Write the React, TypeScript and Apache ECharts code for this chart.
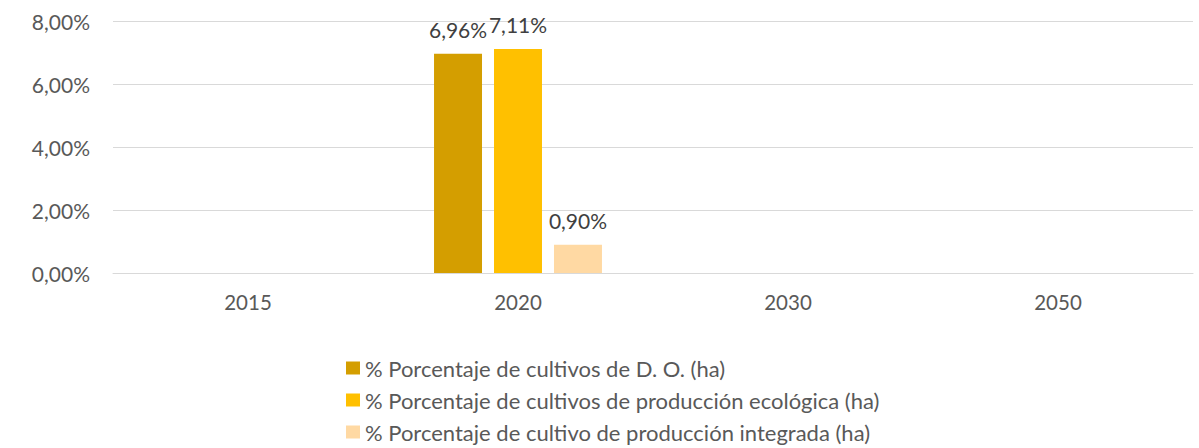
import React, { useEffect, useRef } from "react";
import * as echarts from "echarts";

const categories = ["2015", "2020", "2030", "2050"];
const seriesNames = [
  "% Porcentaje de cultivos de D. O. (ha)",
  "% Porcentaje de cultivos de producción ecológica (ha)",
  "% Porcentaje de cultivo de producción integrada (ha)",
];
const doValues = [null, 6.96, null, null];
const ecoValues = [null, 7.11, null, null];
const integradaValues = [null, 0.9, null, null];
const yTicks = [0, 2, 4, 6, 8];
const colors = ["#D49E00", "#FFC000", "#FFD9A3"];

const fmt = (v: number) => v.toFixed(2).replace(".", ",") + "%";

const FONT = "Lato";
function fitSize(text: string, target: number, fallback: number) {
  try {
    const c = document.createElement("canvas").getContext("2d");
    if (!c) return fallback;
    c.font = `100px ${FONT}`;
    const w = c.measureText(text).width;
    if (!w) return fallback;
    return Math.round((target / w) * 100 * 2) / 2;
  } catch (e) {
    return fallback;
  }
}

export default function App() {
  const ref = useRef<HTMLDivElement>(null);
  useEffect(() => {
    if (!ref.current) return;
    document.body.style.margin = "0";
    document.body.style.overflow = "hidden";
    const chart = echarts.init(ref.current, undefined, { renderer: "svg" });
    const font = "Lato, 'Open Sans', sans-serif";
    const allData = [doValues, ecoValues, integradaValues];
    const axisFs = fitSize("8,00%", 58, 20);
    const catFs = fitSize("2020", 47, 20);
    const legFs = fitSize(seriesNames[0], 362, 21);
    const rowH = 32;
    chart.setOption({
      animation: false,
      textStyle: { fontFamily: font },
      grid: { left: 113, right: 6, top: 21, bottom: 175, containLabel: false },
      legend: {
        orient: "vertical",
        left: 346,
        top: 368 - legFs / 2,
        height: 120,
        padding: 0,
        itemWidth: 14,
        itemHeight: 13,
        itemGap: rowH - legFs,
        icon: "rect",
        textStyle: { color: "#595959", fontSize: legFs, fontFamily: font },
        data: seriesNames,
      },
      xAxis: {
        type: "category",
        data: categories,
        axisLine: { lineStyle: { color: "#D9D9D9" } },
        axisTick: { show: false },
        axisLabel: { color: "#595959", fontSize: catFs, margin: 18, fontFamily: font },
      },
      yAxis: {
        type: "value",
        min: yTicks[0],
        max: yTicks[yTicks.length - 1],
        interval: yTicks[1] - yTicks[0],
        axisLine: { show: false },
        axisTick: { show: false },
        splitLine: { lineStyle: { color: "#D9D9D9", width: 1 } },
        axisLabel: {
          color: "#595959",
          fontSize: axisFs,
          margin: 23,
          fontFamily: font,
          formatter: (v: number) => fmt(v),
        },
      },
      series: seriesNames.map((name, i) => ({
        name,
        type: "bar",
        data: allData[i],
        itemStyle: { color: colors[i] },
        barGap: "25%",
        barCategoryGap: "37.8%",
        label: {
          show: true,
          position: "top",
          distance: 14,
          color: "#404040",
          fontSize: axisFs,
          fontFamily: font,
          formatter: (p: any) => fmt(p.value),
        },
      })),
    });
    return () => chart.dispose();
  }, []);
  return (
    <div
      ref={ref}
      style={{ position: "absolute", left: 0, top: 0, width: 1199, height: 448 }}
    />
  );
}
